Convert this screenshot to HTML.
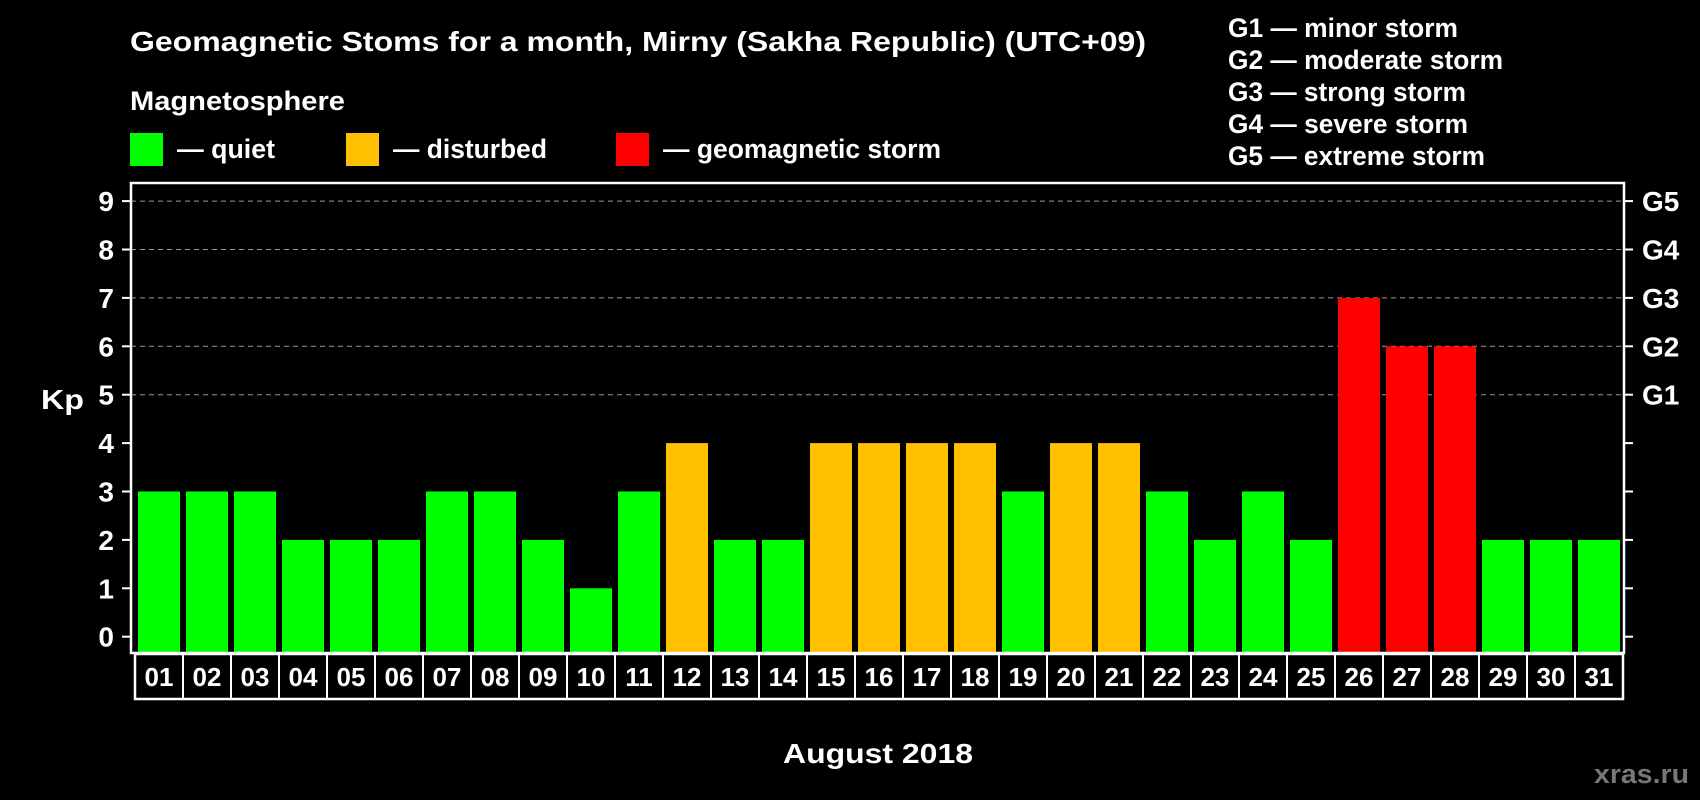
<!DOCTYPE html>
<html><head><meta charset="utf-8"><style>
html,body{margin:0;padding:0;background:#000;}
svg{display:block;font-family:"Liberation Sans",Arial,sans-serif;font-weight:bold;}
</style></head><body>
<svg id="chart" width="1700" height="800" viewBox="0 0 1700 800">
<rect width="1700" height="800" fill="#000"/>
<text x="130" y="51" fill="#fff" font-size="28" textLength="1016" lengthAdjust="spacingAndGlyphs">Geomagnetic Stoms for a month, Mirny (Sakha Republic) (UTC+09)</text>
<text x="130" y="110" fill="#fff" font-size="27" textLength="215" lengthAdjust="spacingAndGlyphs">Magnetosphere</text>
<g><rect x="130" y="133" width="33" height="33" fill="#00ff00"/><text x="177" y="158" fill="#fff" font-size="27" textLength="98" lengthAdjust="spacingAndGlyphs">— quiet</text></g>
<g><rect x="346" y="133" width="33" height="33" fill="#ffc000"/><text x="393" y="158" fill="#fff" font-size="27" textLength="154" lengthAdjust="spacingAndGlyphs">— disturbed</text></g>
<g><rect x="616" y="133" width="33" height="33" fill="#ff0000"/><text x="663" y="158" fill="#fff" font-size="27" textLength="278" lengthAdjust="spacingAndGlyphs">— geomagnetic storm</text></g>
<g fill="#fff" font-size="27">
<text x="1228" y="37" textLength="230" lengthAdjust="spacingAndGlyphs">G1 — minor storm</text>
<text x="1228" y="69" textLength="275" lengthAdjust="spacingAndGlyphs">G2 — moderate storm</text>
<text x="1228" y="101" textLength="238" lengthAdjust="spacingAndGlyphs">G3 — strong storm</text>
<text x="1228" y="133" textLength="240" lengthAdjust="spacingAndGlyphs">G4 — severe storm</text>
<text x="1228" y="165" textLength="257" lengthAdjust="spacingAndGlyphs">G5 — extreme storm</text>
</g>
<text x="41" y="409" fill="#fff" font-size="28" textLength="43" lengthAdjust="spacingAndGlyphs">Kp</text>
<text x="783" y="763" fill="#fff" font-size="28" textLength="190" lengthAdjust="spacingAndGlyphs">August 2018</text>
<text x="1594" y="783" fill="#777" font-size="27" textLength="95" lengthAdjust="spacingAndGlyphs">xras.ru</text>
<g id="plot"></g>
</svg>
<script>
const days=["01","02","03","04","05","06","07","08","09","10","11","12","13","14","15","16","17","18","19","20","21","22","23","24","25","26","27","28","29","30","31"];
const kp=[3,3,3,2,2,2,3,3,2,1,3,4,2,2,4,4,4,4,3,4,4,3,2,3,2,7,6,6,2,2,2];
const yTicks=[0,1,2,3,4,5,6,7,8,9];
const gLabels=["G1","G2","G3","G4","G5"];
const gLevels=[5,6,7,8,9];
const NS="http://www.w3.org/2000/svg";
const plot=document.getElementById('plot');
const L=131,R=1624,T=183,B=653,Y0=636.7,UNIT=48.4,X0=135,CW=48;
const y=v=>Y0-v*UNIT;
const x=i=>X0+i*CW;
function mk(tag,a){const e=document.createElementNS(NS,tag);for(const k in a)e.setAttribute(k,a[k]);plot.appendChild(e);return e;}
gLevels.forEach(v=>{
 const g=mk('line',{x1:L,x2:R,y1:y(v),y2:y(v),stroke:'#999','stroke-width':1,'stroke-dasharray':'5,4'});
 
 
});
kp.forEach((v,i)=>{
 const c=v>=5?'#ff0000':(v>=4?'#ffc000':'#00ff00');
 const r=mk('rect',{x:x(i)+3,y:y(v),width:42,height:B-y(v),fill:c});
 
 
});
const fr=mk('rect',{x:L,y:T,width:R-L,height:B-T,fill:'none',stroke:'#fff','stroke-width':2.5});


yTicks.forEach(v=>{
 const t1=mk('line',{x1:L-9,x2:L,y1:y(v),y2:y(v),stroke:'#fff','stroke-width':2});
 
 
 const t2=mk('line',{x1:R,x2:R+9,y1:y(v),y2:y(v),stroke:'#fff','stroke-width':2});
 
 
 const tl=mk('text',{x:114,y:y(v)+10,fill:'#fff','font-size':28,'text-anchor':'end'});
 tl.textContent=v;
 
 
});
gLevels.forEach((v,i)=>{
 const t=mk('text',{x:1642,y:y(v)+10,fill:'#fff','font-size':28});
 t.textContent=gLabels[i];
 
 
});
const db=mk('rect',{x:X0,y:B+1,width:CW*days.length,height:45,fill:'none',stroke:'#fff','stroke-width':2.5});


days.forEach((d,i)=>{
 if(i>0){const s=mk('line',{x1:x(i),x2:x(i),y1:B,y2:B+46,stroke:'#fff','stroke-width':2});
 
 }
 const t=mk('text',{x:x(i)+CW/2,y:B+33,fill:'#fff','font-size':26,'text-anchor':'middle'});
 t.textContent=d;
 
 
});
</script>
</body></html>
